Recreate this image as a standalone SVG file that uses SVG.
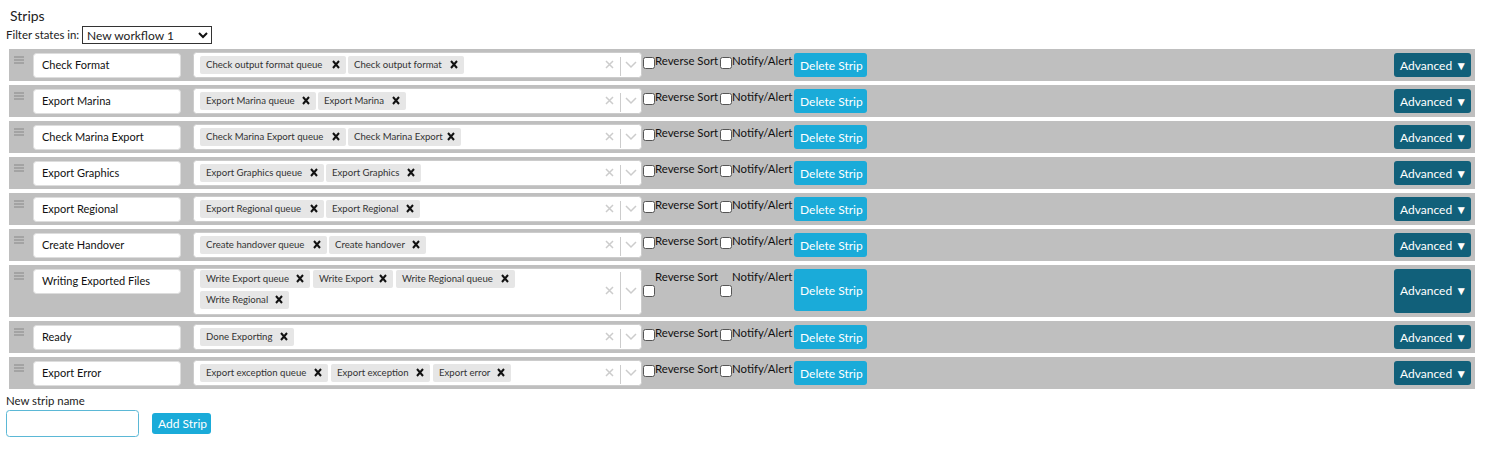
<svg xmlns="http://www.w3.org/2000/svg" width="1487" height="467" viewBox="0 0 1487 467">
<style>
text{font-family:Lato,"Liberation Sans",sans-serif;fill:#222}
.strip{fill:#bfbfbf}
.name{fill:#fff;stroke:#ddd;stroke-width:1}
.box{fill:#fff;stroke:#ccc;stroke-width:1}
.tag{fill:#e6e6e6}
.tt{font-size:9.6px;fill:#333}
.nt{font-size:11px;fill:#111}
.cb{fill:#fff;stroke:#555;stroke-width:1}
.lab{font-size:11.4px;fill:#111}
.del{fill:#1aabd9}
.adv{fill:#11607a}
.bt{font-size:12px;fill:#fff}
.ham{stroke:#888;stroke-width:1.2}
.clr{stroke:#ccc;stroke-width:1.5;fill:none}
.xx{stroke:#111;stroke-width:2;fill:none}
</style>
<rect width="1487" height="467" fill="#fff"/>
<text x="10" y="21" font-size="14">Strips</text>
<text x="6" y="39" font-size="11.4">Filter states in:</text>
<rect x="82.5" y="26.5" width="129" height="17" fill="#fff" stroke="#333"/>
<text x="87" y="40" font-size="12">New workflow 1</text>
<path d="M199 33 l4 4 l4 -4" stroke="#111" stroke-width="2" fill="none"/>
<defs>
<g id="ctl">
<rect class="cb" x="643.5" y="0.5" width="11" height="11" rx="2"/>
<rect class="cb" x="720.5" y="0.5" width="11" height="11" rx="2"/>
</g>
<g id="hamb"><path class="ham" d="M14 57h10M14 60h10M14 63h10"/></g>
<path id="x" class="xx" d="M0 0l6 7M6 0l-6 7"/>
<g id="selx"><path class="clr" d="M606 61l7 7M613 61l-7 7"/><path d="M620.5 57v19" stroke="#ccc"/><path class="clr" d="M626 62l5 5 5-5"/></g>
</defs>

<g id="row1">
<rect class="strip" x="9" y="49" width="1466" height="32"/>
<use href="#hamb"/>
<rect class="name" x="33.5" y="53.5" width="147" height="24" rx="3"/>
<text class="nt" x="42" y="69">Check Format</text>
<rect class="box" x="193.5" y="52.5" width="448" height="25" rx="3"/>
<rect class="tag" x="200" y="56" width="146" height="18" rx="2"/><text class="tt" x="206" y="68">Check output format queue</text><use href="#x" x="333" y="61"/>
<rect class="tag" x="348" y="56" width="116" height="18" rx="2"/><text class="tt" x="354" y="68">Check output format</text><use href="#x" x="451" y="61"/>
<use href="#selx"/>
<use href="#ctl" y="57"/>
<text class="lab" x="655" y="65">Reverse Sort</text><text class="lab" x="732" y="65">Notify/Alert</text>
<rect class="del" x="794" y="53" width="73" height="24" rx="3"/><text class="bt" x="800" y="70">Delete Strip</text>
<rect class="adv" x="1394" y="53" width="77" height="24" rx="3"/><text class="bt" x="1400" y="70">Advanced ▼</text>
</g>

<g id="row2" transform="translate(0,36)">
<rect class="strip" x="9" y="49" width="1466" height="32"/>
<use href="#hamb"/>
<rect class="name" x="33.5" y="53.5" width="147" height="24" rx="3"/>
<text class="nt" x="42" y="69">Export Marina</text>
<rect class="box" x="193.5" y="52.5" width="448" height="25" rx="3"/>
<rect class="tag" x="200" y="56" width="116" height="18" rx="2"/><text class="tt" x="206" y="68">Export Marina queue</text><use href="#x" x="303" y="61"/>
<rect class="tag" x="318" y="56" width="88" height="18" rx="2"/><text class="tt" x="324" y="68">Export Marina</text><use href="#x" x="393" y="61"/>
<use href="#selx"/>
<use href="#ctl" y="57"/>
<text class="lab" x="655" y="65">Reverse Sort</text><text class="lab" x="732" y="65">Notify/Alert</text>
<rect class="del" x="794" y="53" width="73" height="24" rx="3"/><text class="bt" x="800" y="70">Delete Strip</text>
<rect class="adv" x="1394" y="53" width="77" height="24" rx="3"/><text class="bt" x="1400" y="70">Advanced ▼</text>
</g>

<g id="row3" transform="translate(0,72)">
<rect class="strip" x="9" y="49" width="1466" height="32"/>
<use href="#hamb"/>
<rect class="name" x="33.5" y="53.5" width="147" height="24" rx="3"/>
<text class="nt" x="42" y="69">Check Marina Export</text>
<rect class="box" x="193.5" y="52.5" width="448" height="25" rx="3"/>
<rect class="tag" x="200" y="56" width="146" height="18" rx="2"/><text class="tt" x="206" y="68">Check Marina Export queue</text><use href="#x" x="333" y="61"/>
<rect class="tag" x="348" y="56" width="113" height="18" rx="2"/><text class="tt" x="354" y="68">Check Marina Export</text><use href="#x" x="448" y="61"/>
<use href="#selx"/>
<use href="#ctl" y="57"/>
<text class="lab" x="655" y="65">Reverse Sort</text><text class="lab" x="732" y="65">Notify/Alert</text>
<rect class="del" x="794" y="53" width="73" height="24" rx="3"/><text class="bt" x="800" y="70">Delete Strip</text>
<rect class="adv" x="1394" y="53" width="77" height="24" rx="3"/><text class="bt" x="1400" y="70">Advanced ▼</text>
</g>

<g id="row4" transform="translate(0,108)">
<rect class="strip" x="9" y="49" width="1466" height="32"/>
<use href="#hamb"/>
<rect class="name" x="33.5" y="53.5" width="147" height="24" rx="3"/>
<text class="nt" x="42" y="69">Export Graphics</text>
<rect class="box" x="193.5" y="52.5" width="448" height="25" rx="3"/>
<rect class="tag" x="200" y="56" width="124" height="18" rx="2"/><text class="tt" x="206" y="68">Export Graphics queue</text><use href="#x" x="311" y="61"/>
<rect class="tag" x="326" y="56" width="95" height="18" rx="2"/><text class="tt" x="332" y="68">Export Graphics</text><use href="#x" x="408" y="61"/>
<use href="#selx"/>
<use href="#ctl" y="57"/>
<text class="lab" x="655" y="65">Reverse Sort</text><text class="lab" x="732" y="65">Notify/Alert</text>
<rect class="del" x="794" y="53" width="73" height="24" rx="3"/><text class="bt" x="800" y="70">Delete Strip</text>
<rect class="adv" x="1394" y="53" width="77" height="24" rx="3"/><text class="bt" x="1400" y="70">Advanced ▼</text>
</g>

<g id="row5" transform="translate(0,144)">
<rect class="strip" x="9" y="49" width="1466" height="32"/>
<use href="#hamb"/>
<rect class="name" x="33.5" y="53.5" width="147" height="24" rx="3"/>
<text class="nt" x="42" y="69">Export Regional</text>
<rect class="box" x="193.5" y="52.5" width="448" height="25" rx="3"/>
<rect class="tag" x="200" y="56" width="124" height="18" rx="2"/><text class="tt" x="206" y="68">Export Regional queue</text><use href="#x" x="311" y="61"/>
<rect class="tag" x="326" y="56" width="94" height="18" rx="2"/><text class="tt" x="332" y="68">Export Regional</text><use href="#x" x="407" y="61"/>
<use href="#selx"/>
<use href="#ctl" y="57"/>
<text class="lab" x="655" y="65">Reverse Sort</text><text class="lab" x="732" y="65">Notify/Alert</text>
<rect class="del" x="794" y="53" width="73" height="24" rx="3"/><text class="bt" x="800" y="70">Delete Strip</text>
<rect class="adv" x="1394" y="53" width="77" height="24" rx="3"/><text class="bt" x="1400" y="70">Advanced ▼</text>
</g>

<g id="row6" transform="translate(0,180)">
<rect class="strip" x="9" y="49" width="1466" height="32"/>
<use href="#hamb"/>
<rect class="name" x="33.5" y="53.5" width="147" height="24" rx="3"/>
<text class="nt" x="42" y="69">Create Handover</text>
<rect class="box" x="193.5" y="52.5" width="448" height="25" rx="3"/>
<rect class="tag" x="200" y="56" width="127" height="18" rx="2"/><text class="tt" x="206" y="68">Create handover queue</text><use href="#x" x="314" y="61"/>
<rect class="tag" x="329" y="56" width="97" height="18" rx="2"/><text class="tt" x="335" y="68">Create handover</text><use href="#x" x="413" y="61"/>
<use href="#selx"/>
<use href="#ctl" y="57"/>
<text class="lab" x="655" y="65">Reverse Sort</text><text class="lab" x="732" y="65">Notify/Alert</text>
<rect class="del" x="794" y="53" width="73" height="24" rx="3"/><text class="bt" x="800" y="70">Delete Strip</text>
<rect class="adv" x="1394" y="53" width="77" height="24" rx="3"/><text class="bt" x="1400" y="70">Advanced ▼</text>
</g>

<g id="row7" transform="translate(0,216)">
<rect class="strip" x="9" y="49" width="1466" height="52"/>
<use href="#hamb"/>
<rect class="name" x="33.5" y="53.5" width="147" height="24" rx="3"/>
<text class="nt" x="42" y="69">Writing Exported Files</text>
<rect class="box" x="193.5" y="52.5" width="448" height="46" rx="3"/>
<rect class="tag" x="200" y="54" width="110" height="18" rx="2"/><text class="tt" x="206" y="66">Write Export queue</text><use href="#x" x="297" y="59"/>
<rect class="tag" x="313" y="54" width="80" height="18" rx="2"/><text class="tt" x="319" y="66">Write Export</text><use href="#x" x="380" y="59"/>
<rect class="tag" x="396" y="54" width="119" height="18" rx="2"/><text class="tt" x="402" y="66">Write Regional queue</text><use href="#x" x="502" y="59"/>
<rect class="tag" x="200" y="75" width="89" height="18" rx="2"/><text class="tt" x="206" y="87">Write Regional</text><use href="#x" x="276" y="80"/>
<g transform="translate(0,10)"><path class="clr" d="M606 61l7 7M613 61l-7 7"/><path class="clr" d="M626 62l5 5 5-5"/></g><path d="M620.5 56v38" stroke="#ccc"/>
<use href="#ctl" y="69"/>
<text class="lab" x="655" y="65">Reverse Sort</text><text class="lab" x="732" y="65">Notify/Alert</text>
<rect class="del" x="794" y="53" width="73" height="42" rx="3"/><text class="bt" x="800" y="79">Delete Strip</text>
<rect class="adv" x="1394" y="53" width="77" height="44" rx="3"/><text class="bt" x="1400" y="79">Advanced ▼</text>
</g>

<g id="row8" transform="translate(0,272)">
<rect class="strip" x="9" y="49" width="1466" height="32"/>
<use href="#hamb"/>
<rect class="name" x="33.5" y="53.5" width="147" height="24" rx="3"/>
<text class="nt" x="42" y="69">Ready</text>
<rect class="box" x="193.5" y="52.5" width="448" height="25" rx="3"/>
<rect class="tag" x="200" y="56" width="94" height="18" rx="2"/><text class="tt" x="206" y="68">Done Exporting</text><use href="#x" x="281" y="61"/>
<use href="#selx"/>
<use href="#ctl" y="57"/>
<text class="lab" x="655" y="65">Reverse Sort</text><text class="lab" x="732" y="65">Notify/Alert</text>
<rect class="del" x="794" y="53" width="73" height="24" rx="3"/><text class="bt" x="800" y="70">Delete Strip</text>
<rect class="adv" x="1394" y="53" width="77" height="24" rx="3"/><text class="bt" x="1400" y="70">Advanced ▼</text>
</g>

<g id="row9" transform="translate(0,308)">
<rect class="strip" x="9" y="49" width="1466" height="32"/>
<use href="#hamb"/>
<rect class="name" x="33.5" y="53.5" width="147" height="24" rx="3"/>
<text class="nt" x="42" y="69">Export Error</text>
<rect class="box" x="193.5" y="52.5" width="448" height="25" rx="3"/>
<rect class="tag" x="200" y="56" width="128" height="18" rx="2"/><text class="tt" x="206" y="68">Export exception queue</text><use href="#x" x="315" y="61"/>
<rect class="tag" x="331" y="56" width="99" height="18" rx="2"/><text class="tt" x="337" y="68">Export exception</text><use href="#x" x="417" y="61"/>
<rect class="tag" x="433" y="56" width="78" height="18" rx="2"/><text class="tt" x="439" y="68">Export error</text><use href="#x" x="498" y="61"/>
<use href="#selx"/>
<use href="#ctl" y="57"/>
<text class="lab" x="655" y="65">Reverse Sort</text><text class="lab" x="732" y="65">Notify/Alert</text>
<rect class="del" x="794" y="53" width="73" height="24" rx="3"/><text class="bt" x="800" y="70">Delete Strip</text>
<rect class="adv" x="1394" y="53" width="77" height="24" rx="3"/><text class="bt" x="1400" y="70">Advanced ▼</text>
</g>

<g id="newstrip">
<text x="6" y="405" font-size="11.4">New strip name</text>
<rect x="6.5" y="410.5" width="132" height="26" rx="3" fill="#fff" stroke="#5bb8d6"/>
<rect class="del" x="152" y="413" width="59" height="21" rx="3"/><text class="bt" x="158" y="428">Add Strip</text>
</g>
</svg>
